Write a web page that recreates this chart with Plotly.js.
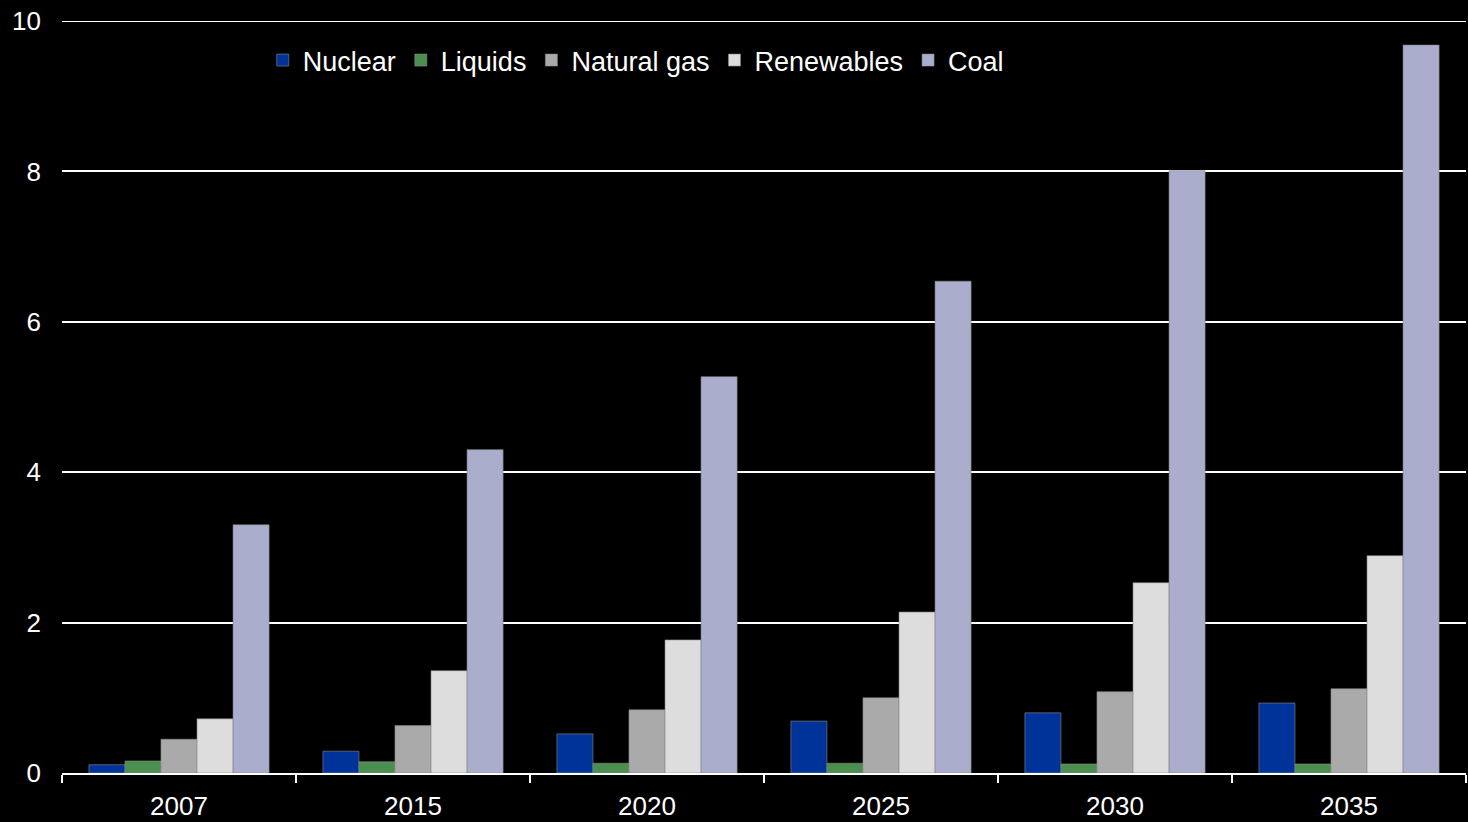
<!DOCTYPE html>
<html><head><meta charset="utf-8">
<script src="https://cdn.plot.ly/plotly-3.0.1.min.js"></script>
<style>html,body{margin:0;padding:0;background:#000;}#chart{width:1468px;height:822px;}</style>
</head><body><div id="chart"></div>
<script>
const years = ["2007","2015","2020","2025","2030","2035"];
const nuclear = [0.11,0.29,0.52,0.69,0.80,0.93];
const liquids = [0.16,0.15,0.13,0.13,0.12,0.12];
const naturalGas = [0.45,0.63,0.84,1.00,1.08,1.12];
const renewables = [0.72,1.36,1.77,2.14,2.53,2.89];
const coal = [3.30,4.30,5.27,6.54,8.01,9.68];
const yTicks = [0,2,4,6,8,10];

const series = [
  {name:"Nuclear", y:nuclear, color:"#003399"},
  {name:"Liquids", y:liquids, color:"#4a8f4f"},
  {name:"Natural gas", y:naturalGas, color:"#aaaaaa"},
  {name:"Renewables", y:renewables, color:"#dddddd"},
  {name:"Coal", y:coal, color:"#aaaecc"}
];
const traces = series.map(s => ({
  type:"bar", name:s.name, x:years, y:s.y,
  marker:{color:s.color, line:{color:"#888888", width:0.6}}
}));
const layout = {
  width:1468, height:822,
  paper_bgcolor:"#000", plot_bgcolor:"#000",
  font:{family:"Liberation Sans, Arial, sans-serif", color:"#fff", size:26},
  margin:{l:62, r:2, t:21, b:49},
  barmode:"group", bargap:0.23, bargroupgap:0,
  showlegend:true,
  legend:{orientation:"h", x:0.143, xanchor:"left", y:0.98, yanchor:"top",
    font:{size:27, color:"#fff"}, bgcolor:"rgba(0,0,0,0)", itemwidth:30, tracegroupgap:0},
  xaxis:{type:"category", tickson:"boundaries", ticks:"outside", ticklen:8, tickcolor:"#fff", tickwidth:2,
    showline:true, linecolor:"#fff", linewidth:2, showgrid:false, tickfont:{size:26, color:"#fff"},
    ticklabelstandoff:9},
  yaxis:{range:[0,10], tickvals:yTicks, ticktext:yTicks.map(String), showgrid:true, gridcolor:"#fff", gridwidth:2,
    zeroline:false, showline:false, ticks:"", tickfont:{size:26, color:"#fff"}, ticklabelstandoff:20},
  shapes:[{type:"line", xref:"paper", yref:"y", x0:0, x1:1, y0:yTicks[yTicks.length-1], y1:yTicks[yTicks.length-1],
    line:{color:"#fff", width:2}, layer:"below"}]
};
Plotly.newPlot("chart", traces, layout, {displayModeBar:false, staticPlot:true});
</script></body></html>
